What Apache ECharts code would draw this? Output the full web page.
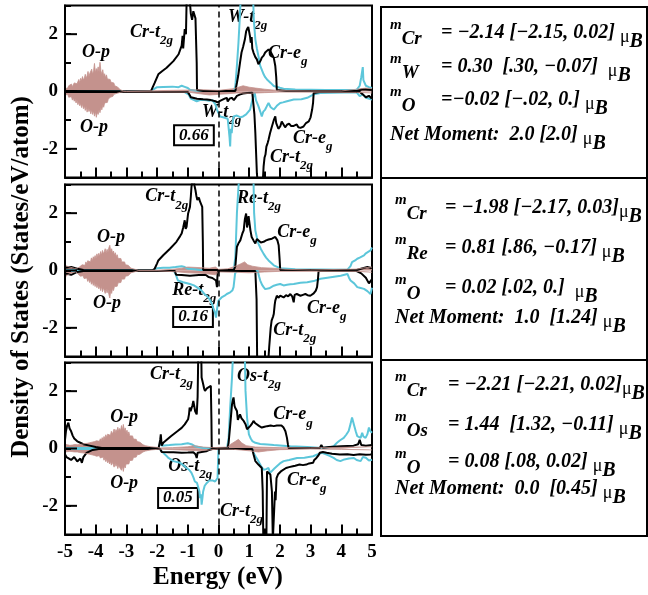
<!DOCTYPE html>
<html><head><meta charset="utf-8">
<script src="https://cdn.jsdelivr.net/npm/echarts@6/dist/echarts.min.js"></script>
<style>html,body{margin:0;padding:0;background:#fff}#c{width:648px;height:595px}</style>
</head><body><div id="c"></div>
<script>
// ---------------- DATA (energy eV, DOS states/eV/atom) ----------------
const energyTickLabels = [-5,-4,-3,-2,-1,0,1,2,3,4,5];
const dosTickLabels = [-2,0,2];

// Panel 1 (Cr / W)
const crUp1 = [[-5,0.02],[-3,0.01],[-2.2,0.01],[-2.14,0.05],[-2.08,0.3],[-1.96,0.6],[-1.85,0.7],[-1.69,0.83],[-1.47,1.06],[-1.3,1.3],[-1.26,1.36],[-1.2,1.6],[-1.17,1.94],[-1.15,1.5],[-1.13,1.47],[-1.1,2.18],[-1.06,2.0],[-1.04,3.1],[-0.98,3.2],[-0.93,3.1],[-0.9,2.7],[-0.86,2.5],[-0.82,2.8],[-0.8,2.76],[-0.75,2.55],[-0.72,2.5],[-0.71,1.0],[-0.7,0.05],[-0.5,0.02],[0.55,0.02],[0.6,0.3],[0.64,0.54],[0.7,1.0],[0.75,1.36],[0.8,1.55],[0.86,1.82],[0.9,2.1],[0.93,2.18],[0.97,2.25],[1.0,2.23],[1.03,1.9],[1.05,1.7],[1.08,1.9],[1.1,1.5],[1.14,1.36],[1.2,1.2],[1.25,1.12],[1.3,0.95],[1.34,0.89],[1.38,1.1],[1.41,1.18],[1.47,1.25],[1.52,1.36],[1.58,1.42],[1.63,1.47],[1.7,1.38],[1.74,1.3],[1.8,1.18],[1.85,0.89],[1.88,0.5],[1.9,0.05],[2.2,0.02],[4.5,0.02],[4.7,0.08],[5,0.05]];
const crDn1 = [[-5,-0.02],[-1.0,-0.02],[-0.95,-0.1],[-0.9,-0.2],[-0.86,-0.22],[-0.7,-0.25],[-0.5,-0.27],[-0.38,-0.28],[-0.25,-0.3],[-0.1,-0.34],[-0.03,-0.38],[0,-0.4],[0.05,-0.33],[0.1,-0.28],[0.2,-0.25],[0.27,-0.22],[0.3,-0.35],[0.33,-0.4],[0.36,-0.25],[0.43,-0.22],[0.5,-0.3],[0.55,-0.25],[0.6,-0.15],[0.71,-0.1],[0.8,-0.07],[0.93,-0.05],[1.1,-0.04],[1.14,-0.1],[1.17,-0.8],[1.2,-1.45],[1.25,-2.85],[1.28,-3.2],[1.44,-3.2],[1.47,-2.6],[1.5,-2.3],[1.53,-2.2],[1.56,-1.92],[1.6,-1.8],[1.63,-1.68],[1.68,-1.45],[1.74,-1.22],[1.8,-1.0],[1.85,-0.87],[1.88,-1.1],[1.9,-1.04],[1.95,-1.3],[2.01,-1.22],[2.06,-1.05],[2.12,-1.1],[2.17,-1.25],[2.23,-1.16],[2.3,-1.12],[2.36,-1.2],[2.45,-1.2],[2.55,-1.15],[2.6,-1.25],[2.67,-1.27],[2.72,-1.3],[2.77,-1.22],[2.85,-1.1],[2.94,-1.04],[3.0,-0.9],[3.05,-0.63],[3.08,-0.4],[3.1,-0.05],[3.3,-0.02],[4.6,-0.02],[4.7,-0.1],[4.8,-0.2],[4.9,-0.15],[5,-0.25]];
const bUp1 = [[-5,0.02],[-2.2,0.02],[-2.14,0.08],[-2.0,0.15],[-1.8,0.16],[-1.5,0.17],[-1.3,0.15],[-1.2,0.2],[-1.1,0.16],[-1.0,0.12],[-0.93,0.06],[-0.7,0.03],[0.5,0.02],[0.55,0.2],[0.6,0.9],[0.65,1.7],[0.69,2.5],[0.72,3.2],[1.13,3.2],[1.15,2.5],[1.2,1.82],[1.25,1.5],[1.3,1.24],[1.33,1.3],[1.36,0.89],[1.4,0.95],[1.47,0.6],[1.52,0.5],[1.58,0.42],[1.7,0.3],[1.8,0.19],[2.0,0.13],[2.12,0.1],[2.5,0.07],[3.5,0.05],[4.5,0.06],[4.6,0.2],[4.65,0.5],[4.7,0.85],[4.72,0.4],[4.8,0.2],[4.9,0.15],[5,0.12]];
const bDn1 = [[-5,-0.02],[-1.1,-0.02],[-1.04,-0.05],[-0.98,-0.1],[-0.9,-0.25],[-0.87,-0.28],[-0.71,-0.34],[-0.6,-0.3],[-0.44,-0.3],[-0.3,-0.32],[-0.2,-0.3],[-0.1,-0.45],[-0.05,-0.63],[0.05,-0.87],[0.15,-0.9],[0.21,-0.92],[0.3,-0.95],[0.33,-0.98],[0.36,-1.6],[0.38,-1.92],[0.4,-1.3],[0.43,-1.45],[0.46,-1.1],[0.49,-0.87],[0.6,-0.84],[0.64,-0.81],[0.72,-0.9],[0.8,-0.87],[0.9,-0.8],[0.95,-0.85],[1.03,-0.63],[1.1,-0.3],[1.14,-0.16],[1.18,-0.05],[1.22,-0.3],[1.3,-0.51],[1.36,-0.7],[1.41,-0.87],[1.46,-0.7],[1.52,-0.63],[1.58,-0.5],[1.63,-0.4],[1.7,-0.55],[1.75,-0.5],[1.8,-0.63],[1.9,-0.5],[2.01,-0.4],[2.1,-0.38],[2.23,-0.34],[2.45,-0.28],[2.7,-0.27],[2.89,-0.22],[3.1,-0.1],[3.32,-0.05],[4.5,-0.03],[4.6,-0.16],[4.7,-0.1],[4.8,-0.22],[5,-0.28]];
const oUp1 = [[-5,0.1],[-4.97,0.16],[-4.94,0.08],[-4.91,0.12],[-4.88,0.2],[-4.85,0.14],[-4.82,0.18],[-4.79,0.26],[-4.76,0.17],[-4.73,0.22],[-4.7,0.3],[-4.67,0.24],[-4.64,0.36],[-4.61,0.27],[-4.58,0.32],[-4.55,0.42],[-4.52,0.3],[-4.49,0.46],[-4.46,0.38],[-4.43,0.52],[-4.4,0.4],[-4.37,0.47],[-4.34,0.6],[-4.31,0.45],[-4.28,0.56],[-4.25,0.7],[-4.22,0.52],[-4.19,0.64],[-4.16,0.58],[-4.13,0.78],[-4.1,0.6],[-4.07,0.72],[-4.04,0.98],[-4.01,0.66],[-3.98,0.8],[-3.95,0.7],[-3.92,0.86],[-3.89,0.68],[-3.86,1.02],[-3.83,0.72],[-3.8,0.6],[-3.77,0.76],[-3.74,0.55],[-3.71,0.62],[-3.68,0.48],[-3.65,0.58],[-3.62,0.44],[-3.59,0.5],[-3.56,0.38],[-3.53,0.42],[-3.5,0.32],[-3.47,0.36],[-3.44,0.26],[-3.41,0.3],[-3.38,0.2],[-3.35,0.22],[-3.32,0.14],[-3.29,0.16],[-3.26,0.1],[-3.23,0.1],[-3.2,0.06],[-3.15,0.05],[-3.1,0.02],[-3,0.01],[-2,0.03],[-1,0.05],[-0.5,0.06],[0,0.04],[0.5,0.1],[0.8,0.2],[1,0.15],[1.2,0.12],[1.5,0.08],[2,0.03],[3,0.02],[4,0.02],[4.5,0.08],[4.8,0.12],[5,0.1]];
const oDn1 = [[-5,-0.12],[-4.97,-0.07],[-4.94,-0.16],[-4.91,-0.1],[-4.88,-0.2],[-4.85,-0.15],[-4.82,-0.24],[-4.79,-0.18],[-4.76,-0.3],[-4.73,-0.22],[-4.7,-0.34],[-4.67,-0.27],[-4.64,-0.4],[-4.61,-0.3],[-4.58,-0.46],[-4.55,-0.36],[-4.52,-0.5],[-4.49,-0.42],[-4.46,-0.56],[-4.43,-0.44],[-4.4,-0.6],[-4.37,-0.5],[-4.34,-0.66],[-4.31,-0.52],[-4.28,-0.72],[-4.25,-0.58],[-4.22,-0.7],[-4.19,-0.62],[-4.16,-0.78],[-4.13,-0.64],[-4.1,-0.8],[-4.07,-0.68],[-4.04,-0.86],[-4.01,-0.7],[-3.98,-0.9],[-3.95,-0.72],[-3.92,-0.8],[-3.89,-0.64],[-3.86,-0.74],[-3.83,-0.56],[-3.8,-0.64],[-3.77,-0.48],[-3.74,-0.55],[-3.71,-0.4],[-3.68,-0.46],[-3.65,-0.34],[-3.62,-0.38],[-3.59,-0.27],[-3.56,-0.3],[-3.53,-0.2],[-3.5,-0.24],[-3.47,-0.15],[-3.44,-0.17],[-3.41,-0.1],[-3.38,-0.12],[-3.35,-0.07],[-3.3,-0.06],[-3.25,-0.04],[-3.2,-0.03],[-3.1,-0.01],[-3,-0.01],[-1,-0.02],[-0.6,-0.08],[-0.3,-0.12],[0,-0.1],[0.3,-0.08],[0.6,-0.05],[1,-0.06],[1.5,-0.04],[2,-0.02],[4.5,-0.03],[5,-0.05]];

// Panel 2 (Cr / Re)
const crUp2 = [[-5,0.1],[-4.8,0.12],[-4.6,0.06],[-4.4,0.02],[-2.15,0.01],[-2.08,0.06],[-2.0,0.25],[-1.96,0.35],[-1.8,0.53],[-1.58,0.76],[-1.37,1.0],[-1.25,1.2],[-1.2,1.29],[-1.15,1.5],[-1.1,1.75],[-1.07,1.45],[-1.04,1.52],[-0.99,1.99],[-0.93,2.22],[-0.9,2.6],[-0.88,2.92],[-0.84,3.2],[-0.8,3.1],[-0.78,2.95],[-0.75,2.8],[-0.72,2.6],[-0.69,2.46],[-0.64,2.55],[-0.6,2.4],[-0.58,2.34],[-0.53,2.22],[-0.51,1.0],[-0.5,0.02],[0.5,0.02],[0.55,0.15],[0.6,0.82],[0.65,0.95],[0.71,1.05],[0.78,1.3],[0.82,1.4],[0.86,1.8],[0.9,1.99],[0.93,1.5],[0.95,1.64],[0.98,1.9],[1.01,1.87],[1.04,1.4],[1.08,1.17],[1.14,1.05],[1.2,0.94],[1.25,1.1],[1.3,1.05],[1.38,0.98],[1.47,1.0],[1.55,1.05],[1.63,1.08],[1.74,1.11],[1.8,1.15],[1.85,1.17],[1.92,1.05],[1.96,0.88],[1.99,0.4],[2.01,0.02],[4.5,0.02],[4.7,0.08],[4.85,0.12],[5,0.08]];
const crDn2 = [[-5,-0.1],[-4.8,-0.15],[-4.6,-0.05],[-4.4,-0.02],[-1.42,-0.02],[-1.38,-0.15],[-1.36,-0.18],[-1.2,-0.16],[-0.93,-0.18],[-0.64,-0.16],[-0.42,-0.15],[-0.32,-0.23],[-0.2,-0.26],[-0.15,-0.29],[-0.08,-0.35],[-0.05,-0.58],[-0.03,-0.1],[0,-0.02],[1.2,-0.02],[1.24,-1.0],[1.26,-3.2],[1.62,-3.2],[1.65,-2.69],[1.7,-2.0],[1.73,-1.75],[1.78,-1.6],[1.8,-1.52],[1.83,-1.2],[1.85,-1.05],[1.9,-0.88],[1.95,-0.95],[2.01,-0.88],[2.06,-0.92],[2.12,-0.94],[2.2,-0.86],[2.27,-0.9],[2.34,-0.82],[2.4,-0.9],[2.45,-1.11],[2.48,-0.85],[2.55,-0.82],[2.67,-0.88],[2.75,-0.85],[2.83,-0.82],[2.9,-0.86],[2.99,-0.88],[3.05,-0.84],[3.1,-0.8],[3.17,-0.7],[3.21,-0.58],[3.24,-0.3],[3.26,-0.02],[4.5,-0.02],[4.65,-0.1],[4.8,-0.25],[4.9,-0.45],[5,-0.3]];
const bUp2 = [[-5,0.02],[-2.1,0.02],[-2.0,0.08],[-1.8,0.1],[-1.6,0.1],[-1.4,0.12],[-1.2,0.15],[-1.1,0.12],[-1.0,0.06],[-0.8,0.04],[-0.6,0.02],[0.5,0.02],[0.55,0.5],[0.6,2.0],[0.65,2.9],[0.67,3.2],[1.14,3.2],[1.16,2.0],[1.2,1.4],[1.25,1.15],[1.3,0.94],[1.38,0.75],[1.47,0.58],[1.55,0.45],[1.63,0.35],[1.8,0.18],[2.0,0.08],[2.5,0.04],[4.2,0.03],[4.3,0.15],[4.35,0.29],[4.45,0.35],[4.52,0.41],[4.6,0.45],[4.74,0.53],[4.8,0.6],[4.85,0.55],[4.95,0.7],[5,0.8]];
const bDn2 = [[-5,-0.02],[-1.45,-0.02],[-1.4,-0.12],[-1.32,-0.35],[-1.15,-0.41],[-0.93,-0.47],[-0.8,-0.52],[-0.71,-0.58],[-0.55,-0.7],[-0.44,-0.84],[-0.35,-0.92],[-0.28,-1.02],[-0.2,-1.2],[-0.17,-1.31],[-0.12,-1.45],[-0.08,-1.64],[-0.04,-1.29],[0,-1.05],[0.1,-0.94],[0.2,-0.88],[0.27,-0.82],[0.38,-0.76],[0.45,-0.7],[0.49,-0.58],[0.52,-0.3],[0.54,-0.1],[0.6,-0.02],[1.28,-0.02],[1.32,-0.2],[1.36,-0.35],[1.42,-0.5],[1.47,-0.58],[1.52,-0.65],[1.58,-0.7],[1.65,-0.62],[1.7,-0.65],[1.8,-0.53],[1.9,-0.5],[2.01,-0.47],[2.12,-0.52],[2.23,-0.5],[2.34,-0.48],[2.45,-0.47],[2.67,-0.43],[2.89,-0.41],[3.1,-0.37],[3.32,-0.29],[3.55,-0.25],[3.98,-0.18],[4.2,-0.12],[4.25,-0.25],[4.3,-0.35],[4.42,-0.45],[4.52,-0.58],[4.6,-0.6],[4.74,-0.64],[4.85,-0.72],[4.95,-0.82],[5,-0.6]];
const oUp2 = [[-5,0.18],[-4.96,0.12],[-4.93,0.15],[-4.89,0.1],[-4.85,0.12],[-4.81,0.08],[-4.77,0.1],[-4.73,0.06],[-4.69,0.07],[-4.65,0.05],[-4.61,0.08],[-4.57,0.1],[-4.53,0.12],[-4.5,0.17],[-4.47,0.12],[-4.44,0.2],[-4.41,0.16],[-4.38,0.24],[-4.35,0.18],[-4.32,0.3],[-4.29,0.22],[-4.26,0.34],[-4.23,0.28],[-4.2,0.38],[-4.17,0.3],[-4.14,0.44],[-4.11,0.34],[-4.08,0.48],[-4.05,0.4],[-4.02,0.52],[-3.99,0.42],[-3.96,0.58],[-3.93,0.46],[-3.9,0.6],[-3.87,0.5],[-3.84,0.66],[-3.81,0.54],[-3.78,0.7],[-3.75,0.58],[-3.72,0.66],[-3.69,0.76],[-3.66,0.6],[-3.63,0.74],[-3.6,0.64],[-3.57,0.8],[-3.54,0.88],[-3.51,0.66],[-3.48,0.76],[-3.45,0.6],[-3.42,0.68],[-3.39,0.54],[-3.36,0.62],[-3.33,0.48],[-3.3,0.55],[-3.27,0.42],[-3.24,0.48],[-3.21,0.36],[-3.18,0.42],[-3.15,0.3],[-3.12,0.35],[-3.09,0.25],[-3.06,0.3],[-3.03,0.2],[-3,0.24],[-2.97,0.16],[-2.94,0.18],[-2.91,0.12],[-2.88,0.13],[-2.85,0.08],[-2.8,0.07],[-2.75,0.05],[-2.7,0.03],[-2.6,0.01],[-2,0.01],[-1.5,0.04],[-1.2,0.08],[-1,0.12],[-0.6,0.1],[-0.3,0.08],[-0.1,0.12],[0,0.04],[0.3,0.06],[0.55,0.15],[0.7,0.22],[0.85,0.3],[0.95,0.2],[1.1,0.15],[1.4,0.1],[1.8,0.08],[2.2,0.04],[3,0.02],[4.5,0.05],[4.8,0.1],[5,0.12]];
const oDn2 = [[-5,-0.3],[-4.96,-0.18],[-4.93,-0.24],[-4.89,-0.14],[-4.85,-0.2],[-4.81,-0.1],[-4.77,-0.13],[-4.73,-0.07],[-4.69,-0.09],[-4.65,-0.05],[-4.61,-0.09],[-4.57,-0.12],[-4.53,-0.14],[-4.5,-0.2],[-4.47,-0.14],[-4.44,-0.24],[-4.41,-0.18],[-4.38,-0.28],[-4.35,-0.22],[-4.32,-0.34],[-4.29,-0.26],[-4.26,-0.38],[-4.23,-0.3],[-4.2,-0.42],[-4.17,-0.34],[-4.14,-0.48],[-4.11,-0.38],[-4.08,-0.52],[-4.05,-0.42],[-4.02,-0.56],[-3.99,-0.46],[-3.96,-0.6],[-3.93,-0.5],[-3.9,-0.64],[-3.87,-0.54],[-3.84,-0.7],[-3.81,-0.56],[-3.78,-0.74],[-3.75,-0.6],[-3.72,-0.7],[-3.69,-0.8],[-3.66,-0.64],[-3.63,-0.78],[-3.6,-0.66],[-3.57,-0.84],[-3.54,-0.96],[-3.51,-0.7],[-3.48,-0.8],[-3.45,-0.62],[-3.42,-0.7],[-3.39,-0.56],[-3.36,-0.62],[-3.33,-0.5],[-3.3,-0.55],[-3.27,-0.43],[-3.24,-0.48],[-3.21,-0.37],[-3.18,-0.42],[-3.15,-0.3],[-3.12,-0.35],[-3.09,-0.26],[-3.06,-0.3],[-3.03,-0.2],[-3,-0.24],[-2.97,-0.16],[-2.94,-0.18],[-2.91,-0.12],[-2.88,-0.13],[-2.85,-0.08],[-2.8,-0.07],[-2.75,-0.05],[-2.7,-0.03],[-2.6,-0.01],[-2,-0.01],[-1.3,-0.05],[-1,-0.08],[-0.5,-0.1],[-0.1,-0.15],[0,-0.05],[0.5,-0.06],[1,-0.08],[1.5,-0.05],[2,-0.03],[4.5,-0.03],[5,-0.06]];

// Panel 3 (Cr / Os)
const crUp3 = [[-5,0.3],[-4.97,0.6],[-4.93,0.8],[-4.89,0.9],[-4.85,0.7],[-4.8,0.6],[-4.75,0.45],[-4.7,0.35],[-4.6,0.25],[-4.5,0.2],[-4.4,0.15],[-4.2,0.1],[-4.0,0.05],[-3.8,0.02],[-1.95,0.02],[-1.9,0.3],[-1.88,0.49],[-1.85,0.1],[-1.8,0.2],[-1.76,0.26],[-1.55,0.43],[-1.33,0.61],[-1.2,0.72],[-1.1,0.84],[-0.99,1.02],[-0.96,1.2],[-0.94,1.43],[-0.91,1.3],[-0.88,1.25],[-0.85,1.5],[-0.82,1.66],[-0.76,1.3],[-0.71,1.19],[-0.68,1.8],[-0.66,3.2],[-0.56,3.2],[-0.55,2.48],[-0.5,2.25],[-0.47,2.1],[-0.44,2.01],[-0.38,2.1],[-0.33,2.13],[-0.25,2.19],[-0.23,1.0],[-0.22,0.02],[0.3,0.02],[0.33,0.2],[0.38,0.8],[0.44,1.54],[0.47,1.7],[0.49,1.78],[0.52,1.5],[0.54,1.43],[0.58,1.4],[0.6,1.31],[0.63,1.0],[0.65,0.96],[0.7,1.19],[0.75,1.05],[0.82,0.96],[0.88,0.85],[0.93,0.67],[0.98,0.72],[1.03,0.78],[1.08,0.85],[1.14,0.96],[1.2,0.88],[1.25,0.84],[1.33,0.78],[1.41,0.73],[1.5,0.76],[1.58,0.78],[1.7,0.8],[1.8,0.78],[1.9,0.8],[1.96,0.84],[2.05,0.8],[2.12,0.73],[2.18,0.6],[2.23,0.37],[2.26,0.15],[2.28,0.02],[3.3,0.02],[3.35,0.12],[3.4,0.03],[3.6,0.05],[4.0,0.08],[4.4,0.1],[4.55,0.15],[4.6,0.3],[4.65,0.12],[4.8,0.1],[5,0.12]];
const crDn3 = [[-5,-0.2],[-4.95,-0.3],[-4.9,-0.35],[-4.8,-0.4],[-4.7,-0.3],[-4.6,-0.45],[-4.5,-0.35],[-4.45,-0.5],[-4.4,-0.3],[-4.3,-0.15],[-4.1,-0.05],[-3.9,-0.02],[-1.9,-0.02],[-1.85,-0.12],[-1.8,-0.15],[-1.6,-0.13],[-1.47,-0.13],[-1.2,-0.15],[-1.0,-0.14],[-0.82,-0.13],[-0.75,-0.2],[-0.71,-0.33],[-0.68,-0.15],[-0.55,-0.12],[-0.4,-0.1],[-0.3,-0.05],[-0.2,-0.02],[1.1,-0.02],[1.14,-0.2],[1.2,-0.44],[1.3,-0.56],[1.41,-0.68],[1.44,-1.5],[1.46,-3.2],[1.56,-3.2],[1.58,-0.8],[1.64,-0.85],[1.69,-0.91],[1.74,-1.5],[1.77,-3.2],[1.83,-3.2],[1.84,-1.5],[1.86,-1.8],[1.89,-1.03],[1.94,-0.9],[1.98,-0.85],[2.03,-0.8],[2.09,-0.74],[2.2,-0.68],[2.3,-0.65],[2.42,-0.62],[2.5,-0.6],[2.64,-0.56],[2.75,-0.58],[2.86,-0.56],[2.95,-0.52],[3.08,-0.5],[3.12,-0.4],[3.19,-0.33],[3.25,-0.25],[3.3,-0.15],[3.4,-0.12],[3.52,-0.15],[3.7,-0.18],[3.95,-0.21],[4.2,-0.2],[4.4,-0.23],[4.6,-0.2],[4.8,-0.22],[4.95,-0.21],[5,-0.2]];
const bUp3 = [[-5,0.02],[-1.95,0.02],[-1.9,0.2],[-1.88,0.3],[-1.85,0.1],[-1.8,0.12],[-1.6,0.12],[-1.4,0.14],[-1.2,0.15],[-1.0,0.18],[-0.94,0.2],[-0.88,0.15],[-0.77,0.08],[-0.66,0.05],[-0.5,0.02],[0.28,0.02],[0.33,0.37],[0.38,1.43],[0.44,2.48],[0.47,3.2],[0.86,3.2],[0.88,2.01],[0.93,1.08],[0.99,0.49],[1.05,0.35],[1.1,0.26],[1.2,0.2],[1.36,0.16],[1.6,0.14],[1.8,0.12],[2.1,0.1],[2.34,0.08],[2.89,0.05],[3.37,0.02],[3.6,0.04],[3.75,0.08],[3.86,0.2],[3.95,0.28],[4.08,0.37],[4.16,0.48],[4.24,0.61],[4.3,0.85],[4.35,1.08],[4.41,0.84],[4.47,0.6],[4.52,0.43],[4.58,0.4],[4.63,0.37],[4.68,0.55],[4.72,0.42],[4.79,0.37],[4.85,0.5],[4.9,0.73],[4.95,0.6],[5,0.55]];
const bDn3 = [[-5,-0.02],[-1.9,-0.02],[-1.85,-0.1],[-1.8,-0.15],[-1.7,-0.25],[-1.63,-0.33],[-1.47,-0.44],[-1.25,-0.5],[-1.15,-0.58],[-1.04,-0.68],[-0.95,-0.75],[-0.88,-0.85],[-0.82,-1.0],[-0.77,-1.15],[-0.7,-1.2],[-0.66,-1.26],[-0.62,-1.5],[-0.6,-1.73],[-0.57,-1.6],[-0.55,-1.96],[-0.52,-1.7],[-0.5,-1.5],[-0.45,-1.3],[-0.38,-1.2],[-0.3,-1.12],[-0.27,-1.09],[-0.18,-1.12],[-0.11,-1.15],[-0.03,-1.03],[-0.01,-0.3],[0,-0.02],[1.1,-0.02],[1.14,-0.15],[1.22,-0.3],[1.3,-0.44],[1.38,-0.6],[1.47,-0.74],[1.55,-0.72],[1.63,-0.68],[1.68,-0.85],[1.74,-0.8],[1.82,-0.7],[1.9,-0.62],[2.0,-0.52],[2.12,-0.44],[2.3,-0.4],[2.56,-0.33],[2.8,-0.32],[3.08,-0.27],[3.2,-0.22],[3.37,-0.15],[3.5,-0.2],[3.6,-0.25],[3.75,-0.33],[3.85,-0.4],[3.97,-0.44],[4.1,-0.38],[4.25,-0.35],[4.41,-0.33],[4.5,-0.4],[4.63,-0.44],[4.7,-0.3],[4.8,-0.32],[4.9,-0.42],[5,-0.39]];
const oUp3 = [[-5,0.15],[-4.96,0.1],[-4.92,0.13],[-4.88,0.08],[-4.84,0.11],[-4.8,0.07],[-4.76,0.12],[-4.72,0.08],[-4.68,0.14],[-4.64,0.09],[-4.6,0.13],[-4.56,0.08],[-4.52,0.14],[-4.48,0.1],[-4.44,0.15],[-4.4,0.11],[-4.36,0.17],[-4.32,0.12],[-4.28,0.18],[-4.24,0.14],[-4.2,0.2],[-4.16,0.15],[-4.12,0.22],[-4.08,0.17],[-4.04,0.24],[-4,0.2],[-3.97,0.27],[-3.94,0.22],[-3.91,0.3],[-3.88,0.25],[-3.85,0.34],[-3.82,0.27],[-3.79,0.38],[-3.76,0.3],[-3.73,0.42],[-3.7,0.35],[-3.67,0.48],[-3.64,0.38],[-3.61,0.5],[-3.58,0.44],[-3.55,0.56],[-3.52,0.46],[-3.49,0.6],[-3.46,0.5],[-3.43,0.58],[-3.4,0.68],[-3.37,0.54],[-3.34,0.66],[-3.31,0.58],[-3.28,0.74],[-3.25,0.6],[-3.22,0.7],[-3.19,0.62],[-3.16,0.8],[-3.13,0.64],[-3.1,0.84],[-3.07,0.62],[-3.04,0.72],[-3.01,0.56],[-2.98,0.64],[-2.95,0.5],[-2.92,0.58],[-2.89,0.44],[-2.86,0.5],[-2.83,0.38],[-2.8,0.44],[-2.77,0.33],[-2.74,0.37],[-2.71,0.28],[-2.68,0.32],[-2.65,0.24],[-2.62,0.27],[-2.59,0.2],[-2.56,0.22],[-2.53,0.16],[-2.5,0.18],[-2.46,0.13],[-2.42,0.14],[-2.38,0.1],[-2.34,0.11],[-2.3,0.08],[-2.25,0.08],[-2.2,0.06],[-2.15,0.06],[-2.1,0.05],[-2.05,0.05],[-2,0.04],[-1.95,0.03],[-1.9,0.02],[-1.5,0.03],[-1,0.06],[-0.8,0.1],[-0.5,0.05],[-0.2,0.03],[0.3,0.05],[0.4,0.15],[0.55,0.25],[0.65,0.32],[0.75,0.2],[0.9,0.1],[1.2,0.05],[2,0.03],[3,0.02],[4,0.04],[5,0.06]];
const oDn3 = [[-5,-0.12],[-4.96,-0.08],[-4.92,-0.11],[-4.88,-0.07],[-4.84,-0.1],[-4.8,-0.07],[-4.76,-0.11],[-4.72,-0.07],[-4.68,-0.12],[-4.64,-0.08],[-4.6,-0.12],[-4.56,-0.09],[-4.52,-0.14],[-4.48,-0.1],[-4.44,-0.15],[-4.4,-0.11],[-4.36,-0.16],[-4.32,-0.12],[-4.28,-0.18],[-4.24,-0.14],[-4.2,-0.2],[-4.16,-0.15],[-4.12,-0.22],[-4.08,-0.17],[-4.04,-0.24],[-4,-0.2],[-3.97,-0.27],[-3.94,-0.22],[-3.91,-0.3],[-3.88,-0.25],[-3.85,-0.33],[-3.82,-0.27],[-3.79,-0.37],[-3.76,-0.3],[-3.73,-0.41],[-3.7,-0.34],[-3.67,-0.46],[-3.64,-0.37],[-3.61,-0.5],[-3.58,-0.42],[-3.55,-0.54],[-3.52,-0.45],[-3.49,-0.58],[-3.46,-0.48],[-3.43,-0.56],[-3.4,-0.65],[-3.37,-0.52],[-3.34,-0.62],[-3.31,-0.55],[-3.28,-0.7],[-3.25,-0.58],[-3.22,-0.66],[-3.19,-0.6],[-3.16,-0.76],[-3.13,-0.62],[-3.1,-0.8],[-3.07,-0.6],[-3.04,-0.68],[-3.01,-0.54],[-2.98,-0.6],[-2.95,-0.48],[-2.92,-0.54],[-2.89,-0.42],[-2.86,-0.47],[-2.83,-0.36],[-2.8,-0.41],[-2.77,-0.31],[-2.74,-0.35],[-2.71,-0.26],[-2.68,-0.3],[-2.65,-0.22],[-2.62,-0.25],[-2.59,-0.18],[-2.56,-0.2],[-2.53,-0.15],[-2.5,-0.16],[-2.46,-0.12],[-2.42,-0.13],[-2.38,-0.09],[-2.34,-0.1],[-2.3,-0.07],[-2.25,-0.07],[-2.2,-0.05],[-2.15,-0.05],[-2.1,-0.04],[-2.05,-0.04],[-2,-0.03],[-1.95,-0.03],[-1.9,-0.02],[-1.5,-0.04],[-1,-0.06],[-0.6,-0.08],[-0.3,-0.05],[0,-0.02],[0.5,-0.03],[1,-0.08],[1.3,-0.12],[1.6,-0.08],[2,-0.04],[3,-0.02],[4,-0.03],[5,-0.05]];

// Annotations: [panel, E, DOS, main text, subscript]
const annotations = [
  [0,-2.88,2.08,'Cr-t','2g'],[0,-4.45,1.38,'O-p',''],[0,-4.51,-1.24,'O-p',''],
  [0,0.31,2.6,'W-t','2g'],[0,1.61,1.34,'Cr-e','g'],[0,-0.54,-0.72,'W-t','2g'],
  [0,2.43,-1.62,'Cr-e','g'],[0,1.68,-2.28,'Cr-t','2g'],
  [1,-2.39,2.57,'Cr-t','2g'],[1,-3.96,1.17,'O-p',''],[1,-4.09,-1.13,'O-p',''],
  [1,0.60,2.53,'Re-t','2g'],[1,1.91,1.34,'Cr-e','g'],[1,-1.51,-0.68,'Re-t','2g'],
  [1,2.88,-1.31,'Cr-e','g'],[1,1.78,-2.08,'Cr-t','2g'],
  [2,-2.23,2.57,'Cr-t','2g'],[2,-3.53,1.10,'O-p',''],[2,-3.53,-1.20,'O-p',''],
  [2,0.60,2.53,'Os-t','2g'],[2,1.78,1.18,'Cr-e','g'],[2,-1.64,-0.61,'Os-t','2g'],
  [2,2.23,-1.10,'Cr-e','g'],[2,0.05,-2.18,'Cr-t','2g']
];
// Boxed numbers: [panel, E, DOS, text]
const boxedValues = [[0,-0.80,-1.53,'0.66'],[1,-0.83,-1.62,'0.16'],[2,-1.32,-1.73,'0.05']];

// Moment boxes
const momentSubs = [['Cr','W','O'],['Cr','Re','O'],['Cr','Os','O']];
const momentTexts = [
  ['= −2.14 [−2.15, 0.02] ','= 0.30  [.30, −0.07]  ','=−0.02 [−.02, 0.] '],
  ['= −1.98 [−2.17, 0.03]','= 0.81 [.86, −0.17] ','= 0.02 [.02, 0.]  '],
  ['= −2.21 [−2.21, 0.02]','= 1.44  [1.32, −0.11] ','= 0.08 [.08, 0.02] ']
];
const netMoments = ['Net Moment:  2.0 [2.0] ','Net Moment:  1.0  [1.24] ','Net Moment:  0.0  [0.45] '];

// ---------------- CHART ----------------
const panels = [
  {crUp:crUp1,crDn:crDn1,bUp:bUp1,bDn:bDn1,oUp:oUp1,oDn:oDn1},
  {crUp:crUp2,crDn:crDn2,bUp:bUp2,bDn:bDn2,oUp:oUp2,oDn:oDn2},
  {crUp:crUp3,crDn:crDn3,bUp:bUp3,bDn:bDn3,oUp:oUp3,oDn:oDn3}
];
const FONT = 'Liberation Serif';
const CYAN = '#5cc6da', BROWN = '#c4928d', BLACK = '#000';
const gridTops = [5.5, 184.5, 362.5];

const chart = echarts.init(document.getElementById('c'));
const grids = [], xAxes = [], yAxes = [], series = [];
panels.forEach((p, g) => {
  grids.push({left:65, width:307, top:gridTops[g], height:172, show:true, borderColor:'#000', borderWidth:2, backgroundColor:'transparent'});
  xAxes.push({type:'value', gridIndex:g, min:-5, max:5, interval:1, z:10,
    axisLine:{show:true, onZero:false, lineStyle:{color:'#000', width:2}}, splitLine:{show:false},
    axisTick:{show:true, inside:true, length:10, lineStyle:{color:'#000', width:2}},
    minorTick:{show:true, splitNumber:2, length:6, lineStyle:{color:'#000', width:2}},
    axisLabel:{show:g===2, color:'#000', fontFamily:FONT, fontWeight:'bold', fontSize:19, margin:8,
      formatter: v => energyTickLabels.indexOf(v) >= 0 ? String(v) : ''}});
  yAxes.push({type:'value', gridIndex:g, min:-3, max:3, interval:1, z:10,
    axisLine:{show:true, onZero:false, lineStyle:{color:'#000', width:2}}, splitLine:{show:false},
    axisTick:{show:true, inside:true, length:6, lineStyle:{color:'#000', width:2}},
    axisLabel:{show:true, color:'#000', fontFamily:FONT, fontWeight:'bold', fontSize:19, margin:7,
      formatter: v => dosTickLabels.indexOf(v) >= 0 ? String(v) : ''}});
});
const lineS = (g, data, color, w, extra) => Object.assign({
  type:'line', xAxisIndex:g, yAxisIndex:g, data:data, showSymbol:false, symbol:'none',
  lineStyle:{color:color, width:w}, itemStyle:{color:color}, silent:true
}, extra||{});
panels.forEach((p, g) => {
  series.push(lineS(g, p.bUp, CYAN, 2));
  series.push(lineS(g, p.bDn, CYAN, 2));
  series.push(lineS(g, p.crUp, BLACK, 2));
  series.push(lineS(g, p.crDn, BLACK, 2));
  series.push(lineS(g, p.oUp, BROWN, 0.8, {areaStyle:{color:BROWN, opacity:1}}));
  series.push(lineS(g, p.oDn, BROWN, 0.8, {areaStyle:{color:BROWN, opacity:1},
    markLine:{silent:true, symbol:'none', label:{show:false}, animation:false,
      lineStyle:{color:'#000', type:[6,4], width:1.5}, data:[{xAxis:0}]}}));
});

chart.setOption({animation:false, grid:grids, xAxis:xAxes, yAxis:yAxes, series:series});

// ---------- graphics ----------
const tstyle = (size, weight, italic) => ({fontSize:size, fontFamily:FONT, fontWeight:weight, fontStyle:italic?'italic':'normal', fill:'#000'});
const graphics = [];
// longer inward ticks for the labelled DOS values
panels.forEach((p, g) => {
  dosTickLabels.forEach(v => {
    const pt = chart.convertToPixel({xAxisIndex:g, yAxisIndex:g}, [-5, v]);
    graphics.push({type:'line', z:20, shape:{x1:pt[0], y1:pt[1], x2:pt[0]+12, y2:pt[1]}, style:{stroke:'#000', lineWidth:2}});
  });
});
annotations.forEach(a => {
  const pt = chart.convertToPixel({xAxisIndex:a[0], yAxisIndex:a[0]}, [a[1], a[2]]);
  const txt = a[4] ? '{a|' + a[3] + '}{s|' + a[4] + '}' : '{a|' + a[3] + '}';
  graphics.push({type:'text', x:pt[0], y:pt[1]-9, silent:true,
    style:{text:txt, align:'left', verticalAlign:'top',
      rich:{a:Object.assign(tstyle(18,'bold',true),{lineHeight:18, verticalAlign:'top'}),
            s:Object.assign(tstyle(13,'bold',true),{lineHeight:13, padding:[11,0,0,0], verticalAlign:'top'})}}});
});
boxedValues.forEach(b => {
  const pt = chart.convertToPixel({xAxisIndex:b[0], yAxisIndex:b[0]}, [b[1], b[2]]);
  graphics.push({type:'text', x:pt[0], y:pt[1], silent:true,
    style:Object.assign(tstyle(17,'bold',true), {text:b[3], align:'center', verticalAlign:'middle',
      borderColor:'#000', borderWidth:2, padding:[1,4,0,4], backgroundColor:'#fff'})});
});
// axis titles
graphics.push({type:'text', x:22, y:277, rotation:Math.PI/2, silent:true,
  style:Object.assign(tstyle(25,'bold',false), {text:'Density of States (States/eV/atom)', align:'center', verticalAlign:'middle'})});
graphics.push({type:'text', x:218, y:578, silent:true,
  style:Object.assign(tstyle(25,'bold',false), {text:'Energy (eV)', align:'center', verticalAlign:'middle'})});

// moment boxes
graphics.push({type:'rect', shape:{x:381, y:7, width:266, height:529}, style:{fill:'none', stroke:'#000', lineWidth:2}, silent:true});
graphics.push({type:'line', shape:{x1:381, y1:178, x2:647, y2:178}, style:{stroke:'#000', lineWidth:2}, silent:true});
graphics.push({type:'line', shape:{x1:381, y1:360, x2:647, y2:360}, style:{stroke:'#000', lineWidth:2}, silent:true});
const lineYs = [[33,67,100,135],[208,248,288,318],[385,425,462,489]];
const prefixX = [390, 395, 395];
const mainX = [441, 445, 448];
const mainRich = {t:Object.assign(tstyle(20,'bold',true),{lineHeight:20, verticalAlign:'top'}),
  u:Object.assign(tstyle(18,'normal',false),{lineHeight:18, padding:[5,0,0,0], verticalAlign:'top'}),
  b:Object.assign(tstyle(20,'bold',true),{lineHeight:20, padding:[9,0,0,0], verticalAlign:'top'})};
momentSubs.forEach((subs, b) => {
  subs.forEach((s, i) => {
    const yc = lineYs[b][i];
    graphics.push({type:'text', x:prefixX[b], y:yc-15, silent:true,
      style:{text:'{m|m}{s|' + s + '}', align:'left', verticalAlign:'top',
        rich:{m:Object.assign(tstyle(15,'bold',true),{lineHeight:16, verticalAlign:'top'}),
              s:Object.assign(tstyle(19,'bold',true),{lineHeight:19, padding:[12,0,0,0], verticalAlign:'top'})}}});
    graphics.push({type:'text', x:mainX[b], y:yc-10, silent:true,
      style:{text:'{t|' + momentTexts[b][i] + '}{u|μ}{b|B}', align:'left', verticalAlign:'top', rich:mainRich}});
  });
  const yc = lineYs[b][3];
  graphics.push({type:'text', x:prefixX[b], y:yc-10, silent:true,
    style:{text:'{t|' + netMoments[b] + '}{u|μ}{b|B}', align:'left', verticalAlign:'top', rich:mainRich}});
});
chart.setOption({graphic:graphics});
</script></body></html>
